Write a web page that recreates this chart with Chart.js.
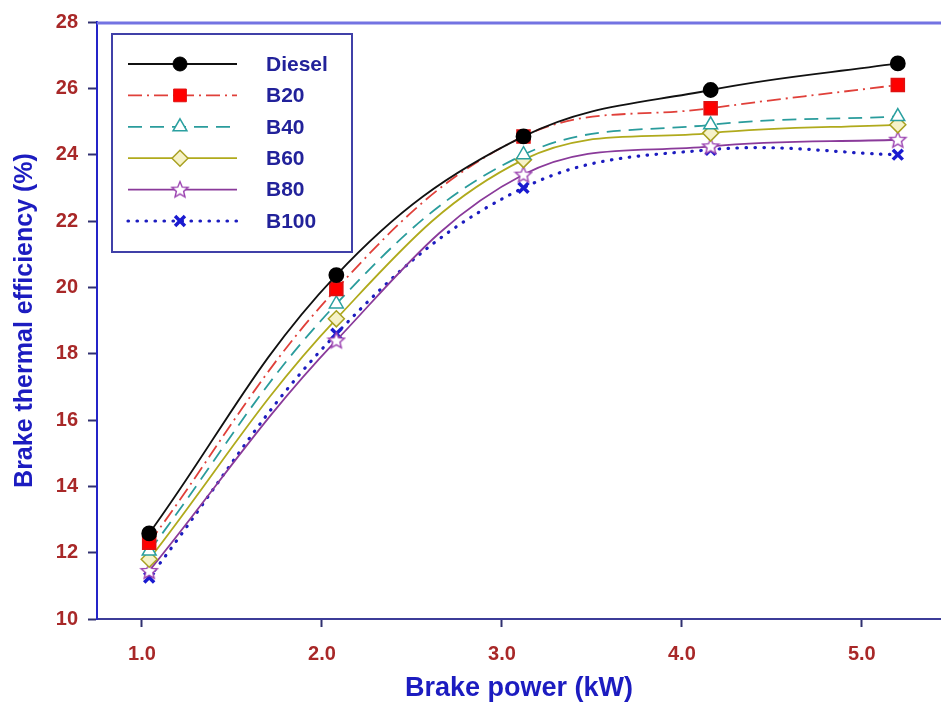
<!DOCTYPE html>
<html>
<head>
<meta charset="utf-8">
<title>Brake thermal efficiency</title>
<script src="https://cdn.jsdelivr.net/npm/chart.js@4.4.1/dist/chart.umd.min.js"></script>
<style>
  html, body { margin: 0; padding: 0; background: #fff; }
  #wrap { width: 941px; height: 705px; }
</style>
</head>
<body>
<div id="wrap"><canvas id="btePlot" width="941" height="705"></canvas></div>
<script>
// brake power (kW) and brake thermal efficiency (%) per fuel blend
const powerKW = [1.04, 2.08, 3.12, 4.16, 5.2];
const diesel = [12.58, 20.37, 24.55, 25.95, 26.75];
const b20 = [12.3, 19.95, 24.55, 25.4, 26.1];
const b40 = [12.05, 19.5, 24.0, 24.9, 25.15];
const b60 = [11.8, 19.05, 23.85, 24.65, 24.9];
const b80 = [11.45, 18.4, 23.4, 24.25, 24.45];
const b100 = [11.25, 18.6, 23.0, 24.15, 24.0];
const fuelNames = ['Diesel', 'B20', 'B40', 'B60', 'B80', 'B100'];
const xTicks = [1, 2, 3, 4, 5];

const FONT = "'Liberation Sans', Arial, sans-serif";

// hollow five point star used as marker for B80
function makeStar(color) {
    const c = document.createElement('canvas');
    c.width = 20; c.height = 20;
    const g = c.getContext('2d');
    g.beginPath();
    for (let i = 0; i < 10; i++) {
        const r = i % 2 === 0 ? 8.5 : 3.8;
        const a = -Math.PI / 2 + i * Math.PI / 5;
        g.lineTo(10 + r * Math.cos(a), 10.5 + r * Math.sin(a));
    }
    g.closePath();
    g.fillStyle = '#fff';
    g.fill();
    g.lineWidth = 1.4;
    g.strokeStyle = color;
    g.stroke();
    return c;
}

function pts(ys) {
    return powerKW.map((x, i) => ({ x: x, y: ys[i] }));
}

const datasets = [
    { label: fuelNames[0], data: pts(diesel), borderColor: '#111', borderWidth: 1.8,
      pointStyle: 'circle', pointRadius: 7, pointBackgroundColor: '#000', pointBorderColor: '#000' },
    { label: fuelNames[1], data: pts(b20), borderColor: '#e0403a', borderWidth: 1.8, borderDash: [14, 5, 2, 5],
      pointStyle: 'rect', pointRadius: 9, pointBackgroundColor: '#f00', pointBorderColor: '#e01010' },
    { label: fuelNames[2], data: pts(b40), borderColor: '#2a9c9c', borderWidth: 1.8, borderDash: [14, 8],
      pointStyle: 'triangle', pointRadius: 8, pointBackgroundColor: '#fff', pointBorderColor: '#2aa0a0', pointBorderWidth: 1.5 },
    { label: fuelNames[3], data: pts(b60), borderColor: '#b0aa1c', borderWidth: 1.8,
      pointStyle: 'rectRot', pointRadius: 8, pointBackgroundColor: '#f6f2c8', pointBorderColor: '#a8a020', pointBorderWidth: 1.5 },
    { label: fuelNames[4], data: pts(b80), borderColor: '#8a3a9a', borderWidth: 1.8,
      pointStyle: makeStar('#9a40b0'), pointRadius: 8 },
    { label: fuelNames[5], data: pts(b100), borderColor: '#1c1cc0', borderWidth: 3.2, borderDash: [0.5, 8.5],
      borderCapStyle: 'round',
      pointStyle: 'crossRot', pointRadius: 7, pointBorderColor: '#1a1ad0', pointBorderWidth: 3.5 }
];

// frame line along the top of the plot
const topFrame = {
    id: 'topFrame',
    afterDraw(chart) {
        const { ctx, chartArea } = chart;
        ctx.save();
        ctx.strokeStyle = '#7373e2';
        ctx.lineWidth = 3;
        ctx.beginPath();
        ctx.moveTo(chartArea.left, chartArea.top + 1);
        ctx.lineTo(chartArea.right, chartArea.top + 1);
        ctx.stroke();
        ctx.restore();
    }
};

// boxed legend in the upper left corner, line sample with marker in the middle
const boxLegend = {
    id: 'boxLegend',
    afterDraw(chart) {
        const ctx = chart.ctx;
        const x0 = 112, y0 = 34, w = 240, h = 218;
        ctx.save();
        ctx.fillStyle = '#fff';
        ctx.fillRect(x0, y0, w, h);
        ctx.strokeStyle = '#4040a8';
        ctx.lineWidth = 2;
        ctx.strokeRect(x0, y0, w, h);
        chart.data.datasets.forEach((ds, i) => {
            const y = 64 + i * 31.4;
            ctx.save();
            ctx.strokeStyle = ds.borderColor;
            ctx.lineWidth = ds.borderWidth;
            ctx.lineCap = ds.borderCapStyle || 'butt';
            ctx.setLineDash(ds.borderDash || []);
            ctx.beginPath();
            ctx.moveTo(128, y);
            ctx.lineTo(237, y);
            ctx.stroke();
            ctx.restore();
            ctx.save();
            ctx.fillStyle = ds.pointBackgroundColor || '#fff';
            ctx.strokeStyle = ds.pointBorderColor || ds.borderColor;
            ctx.lineWidth = ds.pointBorderWidth || 1;
            Chart.helpers.drawPoint(ctx, {
                pointStyle: ds.pointStyle, radius: ds.pointRadius, rotation: 0,
                borderWidth: ds.pointBorderWidth || 1
            }, 180, y);
            ctx.restore();
            ctx.fillStyle = '#22229a';
            ctx.font = 'bold 21px ' + FONT;
            ctx.textBaseline = 'middle';
            ctx.fillText(ds.label, 266, y + 1);
        });
        ctx.restore();
    }
};

new Chart(document.getElementById('btePlot'), {
    type: 'line',
    data: { datasets: datasets },
    options: {
        responsive: false,
        animation: false,
        events: [],
        layout: { autoPadding: false, padding: { left: 0, right: 0, top: 20, bottom: 0 } },
        elements: { line: { tension: 0.38, fill: false } },
        plugins: { legend: { display: false }, tooltip: { enabled: false } },
        scales: {
            x: {
                type: 'linear',
                min: 0.75,
                max: 5.44,
                afterBuildTicks: s => { s.ticks = xTicks.map(v => ({ value: v })); },
                afterFit: s => { s.height = 86; s.paddingLeft = 0; s.paddingRight = 0; },
                border: { color: '#3c3c98', width: 2 },
                grid: { drawOnChartArea: false, drawTicks: true, tickLength: 8, tickColor: '#303070', tickWidth: 2 },
                ticks: {
                    color: '#a82828', padding: 15,
                    font: { family: FONT, size: 20, weight: 'bold' },
                    callback: v => v.toFixed(1)
                },
                title: {
                    display: true, text: 'Brake power (kW)', color: '#1c1cc0',
                    font: { family: FONT, size: 27, weight: 'bold' },
                    padding: { top: 0, bottom: 0 }
                }
            },
            y: {
                min: 10,
                max: 28,
                afterFit: s => { s.width = 97; },
                border: { color: '#2424c8', width: 2 },
                grid: { drawOnChartArea: false, drawTicks: true, tickLength: 9, tickColor: '#303070', tickWidth: 2 },
                ticks: {
                    stepSize: 2, color: '#a82828', padding: 10,
                    font: { family: FONT, size: 20, weight: 'bold' }
                },
                title: {
                    display: true, text: 'Brake thermal efficiency (%)', color: '#1c1cc0',
                    font: { family: FONT, size: 25, weight: 'bold' },
                    padding: { top: 10, bottom: 0 }
                }
            }
        }
    },
    plugins: [topFrame, boxLegend]
});
</script>
</body>
</html>
